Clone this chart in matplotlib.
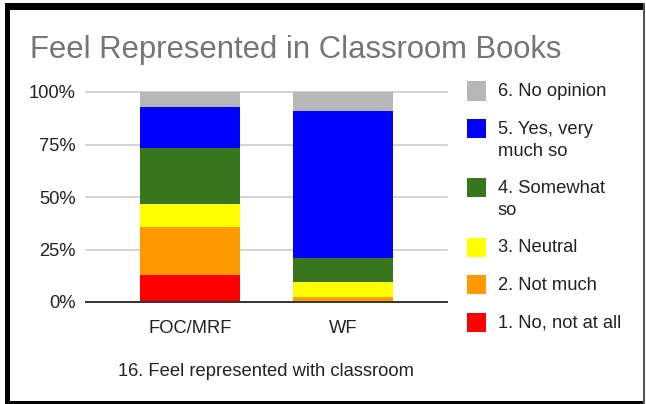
import matplotlib
matplotlib.use("Agg")
import matplotlib.pyplot as plt
from matplotlib.patches import Rectangle

plt.rcParams["font.family"] = ["Liberation Sans", "DejaVu Sans"]

groups = ["FOC/MRF", "WF"]
labels = ["1. No, not at all", "2. Not much", "3. Neutral",
          "4. Somewhat so", "5. Yes, very much so", "6. No opinion"]
colors = ["#ff0000", "#ff9900", "#ffff00", "#38761d", "#0000ff", "#b7b7b7"]
values = {
    "1. No, not at all": [12.7, 0.0],
    "2. Not much": [23.0, 2.2],
    "3. Neutral": [11.2, 7.5],
    "4. Somewhat so": [26.6, 11.1],
    "5. Yes, very much so": [19.4, 70.0],
    "6. No opinion": [7.1, 9.2],
}
legend_text = {
    "4. Somewhat so": ["4. Somewhat", "so"],
    "5. Yes, very much so": ["5. Yes, very", "much so"],
}
y_ticks = [0, 25, 50, 75, 100]

W, H = 646, 404
FS = 13.2
fig = plt.figure(figsize=(W / 100, H / 100), dpi=100)


def box(x0, y0, x1, y1):
    # pixel box (top-left origin) -> figure fraction rect
    return (x0 / W, 1 - y1 / H), (x1 - x0) / W, (y1 - y0) / H


ax = fig.add_axes([86 / W, 1 - 302 / H, (447 - 86) / W, (302 - 92) / H])

x = list(range(len(groups)))
bottom = [0.0] * len(groups)
for lab, col in zip(labels, colors):
    vals = values[lab]
    ax.bar(x, vals, width=0.654, bottom=bottom, color=col, linewidth=0, zorder=3)
    bottom = [b + v for b, v in zip(bottom, vals)]

ax.set_xlim(-0.68, 1.68)
ax.set_ylim(0, 100)
ax.set_yticks(y_ticks)
ax.set_yticklabels([f"{t}%" for t in y_ticks])
ax.set_xticks(x)
ax.set_xticklabels(groups)
ax.tick_params(length=0, labelsize=FS, colors="#222222")
ax.tick_params(axis="y", pad=7.5)
ax.tick_params(axis="x", pad=13)
for t in y_ticks[1:]:
    ax.axhline(t, color="#cccccc", lw=1.2, zorder=1, clip_on=False)
for s in ["top", "right", "left"]:
    ax.spines[s].set_visible(False)
ax.spines["bottom"].set_color("#333333")
ax.spines["bottom"].set_linewidth(1.4)
ax.spines["bottom"].set_zorder(4)

fig.text(30 / W, 1 - 50 / H, "Feel Represented in Classroom Books",
         fontsize=22.3, color="#757575", va="center", ha="left")
fig.text(266 / W, 1 - 371 / H, "16. Feel represented with classroom",
         fontsize=FS, color="#222222", va="center", ha="center")

# legend, top entry first
legend_y = [91, 128.5, 187.5, 247, 284.5, 322]
for lab, col, cy in zip(labels[::-1], colors[::-1], legend_y):
    xy, w, h = box(467, cy - 9.5, 486, cy + 9.5)
    fig.add_artist(Rectangle(xy, w, h, transform=fig.transFigure,
                             facecolor=col, edgecolor="none"))
    for i, line in enumerate(legend_text.get(lab, [lab])):
        fig.text(498 / W, 1 - (cy + 1 + i * 22) / H, line, fontsize=FS,
                 color="#222222", va="center", ha="left")

# outer frame
for (x0, y0, x1, y1, c) in [(5, 3, 645, 10, "black"), (5, 3, 10, 404, "black"),
                            (5, 401, 645, 404, "black"), (643, 3, 645, 404, "#555555")]:
    xy, w, h = box(x0, y0, x1, y1)
    fig.add_artist(Rectangle(xy, w, h, transform=fig.transFigure,
                             facecolor=c, edgecolor="none"))

fig.savefig("out.png", dpi=100)
